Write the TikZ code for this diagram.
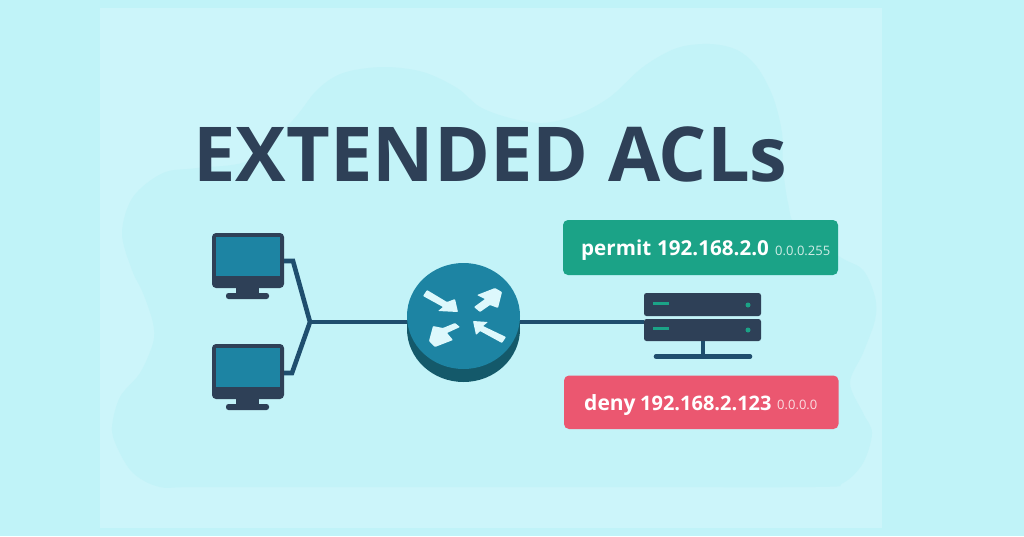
\documentclass[tikz,border=0pt]{standalone}
\usepackage{fontspec}
\setmainfont{Open Sans}
\usetikzlibrary{calc}
\definecolor{outerbg}{HTML}{C0F3F8}
\definecolor{panelbg}{HTML}{CCF5FA}
\definecolor{blobbg}{HTML}{C3F3F8}
\definecolor{navy}{HTML}{2E4057}
\definecolor{wire}{HTML}{1F4E6E}
\definecolor{screen}{HTML}{1D84A3}
\definecolor{routerside}{HTML}{14596A}
\definecolor{arrowfill}{HTML}{DDF8FC}
\definecolor{permitbg}{HTML}{1BA387}
\definecolor{denybg}{HTML}{EB5770}
\tikzset{
 wireline/.style={draw=wire,line width=4.6pt,line join=miter},
 labelbox/.style={rounded corners=5pt,inner sep=0pt},
 boxtext/.style={text=white,inner sep=0pt,anchor=base west},
 smalltext/.style={inner sep=0pt,anchor=base west,font=\fontsize{13}{13}\selectfont},
 netarrow/.style={fill=arrowfill,line join=round,rounded corners=0.8pt},
 unitbar/.style={fill=navy,rounded corners=2.5pt,inner sep=0pt,minimum width=117pt},
}
\newcommand{\monitor}[2]{%
 \begin{scope}[shift={(#1,#2)}]
  \fill[navy,rounded corners=4pt] (0,0) rectangle (72,55);
  \fill[screen] (4,4) rectangle (68,43);
  \fill[navy] (24,55) rectangle (47,61);
  \fill[navy,rounded corners=2.5pt] (14,60) rectangle (57,66);
 \end{scope}}
\begin{document}
\begin{tikzpicture}[x=1pt,y=-1pt]
\useasboundingbox (0,0) rectangle (1024,536);
\fill[outerbg] (0,0) rectangle (1024,536);
\fill[panelbg] (100,8) rectangle (882,528);
% blob
\fill[blobbg] plot[smooth cycle,tension=0.55] coordinates {
 (160,487) (133,473) (117,447) (112,427) (120,397) (140,373) (153,343) (153,323) (143,293) (132,270)
 (122,233) (133,197) (163,173) (197,168) (250,160) (293,120) (317,90) (343,73) (383,67) (423,72) (457,88)
 (480,107) (510,118) (543,123) (577,115) (610,97) (643,67) (677,48) (710,44) (737,50) (757,67) (773,97)
 (782,133) (783,167) (788,203) (797,227) (840,257) (863,270) (875,297) (875,320) (863,353) (850,383)
 (863,413) (872,433) (863,463) (843,483) (815,487) (600,487) (400,487) (200,487)};
% title
\node[name=title,anchor=base,text=navy,font=\fontsize{75.7}{76}\selectfont\bfseries,inner sep=0pt] at (490.5,181) {EXTENDED ACLs};
% monitors
\monitor{212}{233}
\monitor{212}{344}
% connectors
\coordinate (mtop) at (284,261);
\coordinate (mtopbend) at (293,261);
\coordinate (mbot) at (284,373);
\coordinate (mbotbend) at (292,373);
\coordinate (junction) at (310,322);
\node[name=router,minimum size=10pt,inner sep=0pt] at (463.5,322) {};
\node[name=server,minimum width=117pt,minimum height=10pt,inner sep=0pt] at (702.5,322) {};
\draw[wireline] (mtop) -- (mtopbend) -- (junction) -- (mbotbend) -- (mbot);
\draw[wireline] (junction) -- (router.center);
\draw[wireline] (router.center) -- (server.west);
% router
\fill[routerside] (463.5,329) ellipse[x radius=56.5,y radius=53];
\fill[routerside] (407,316) rectangle (520,329);
\fill[screen] (463.5,316) ellipse[x radius=56.5,y radius=53];
\fill[netarrow] (427,290) -- (447,302) -- (455,299) -- (458,312) -- (438,311) -- (443,307) -- (423,296) -- cycle;
\fill[netarrow] (474,307) -- (485,299) -- (477,295) -- (495,288) -- (502,292) -- (498,308) -- (490,305) -- (480,312) -- cycle;
\fill[netarrow] (455,323) -- (460,327) -- (447,333) -- (453,340) -- (435,347) -- (429,341) -- (433,326) -- (443,328) -- cycle;
\fill[netarrow] (473,321) -- (488,322) -- (483,326) -- (506,337) -- (502,343) -- (480,331) -- (476,335) -- cycle;
% server
\node[name=unitA,unitbar,minimum height=23pt] at (702.5,304.5) {};
\node[name=unitB,unitbar,minimum height=22pt] at (702.5,330) {};
\fill[permitbg] (653,302) rectangle (669,305);
\fill[permitbg] (653,327) rectangle (669,330);
\fill[permitbg] (748,305) circle[radius=2.5];
\fill[permitbg] (748,330) circle[radius=2.5];
\draw[draw=wire,line width=4.6pt] (703,341) -- (703,356);
\draw[draw=wire,line width=4.6pt,line cap=round] (656,356.5) -- (750,356.5);
% labels
\fill[labelbox,fill=permitbg] (563,220) rectangle (838,275);
\fill[labelbox,fill=denybg] (564,375.5) rectangle (838.5,429);
\node[boxtext,font=\fontsize{20.6}{21}\selectfont\bfseries] at (581,255.5) {permit};
\node[boxtext,font=\fontsize{20.6}{21}\selectfont\bfseries] at (657,255.5) {192.168.2.0};
\node[smalltext,text=white!80!permitbg] at (775,255) {0.0.0.255};
\node[boxtext,font=\fontsize{21}{21}\selectfont\bfseries] at (584,410) {deny};
\node[boxtext,font=\fontsize{20}{20}\selectfont\bfseries] at (640,410) {192.168.2.123};
\node[smalltext,text=white!80!denybg] at (777,409.5) {0.0.0.0};
\end{tikzpicture}
\end{document}
